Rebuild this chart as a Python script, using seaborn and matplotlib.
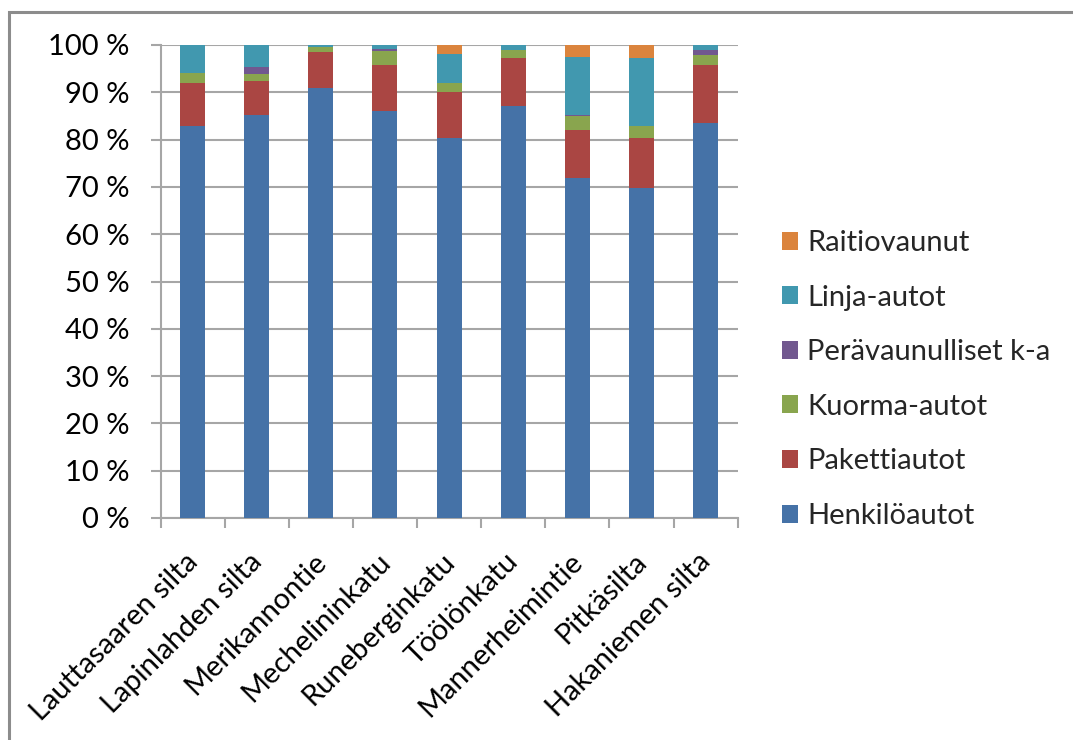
import numpy as np
import pandas as pd
import matplotlib
matplotlib.use("Agg")
import matplotlib.pyplot as plt
import matplotlib.transforms as mtransforms
from matplotlib.patches import Rectangle
import seaborn as sns

categories = ["Lauttasaaren silta", "Lapinlahden silta", "Merikannontie",
              "Mechelininkatu", "Runeberginkatu", "Töölönkatu",
              "Mannerheimintie", "Pitkäsilta", "Hakaniemen silta"]
henkiloautot = [82.8, 85.3, 91.0, 86.0, 80.4, 87.2, 71.9, 69.8, 83.6]
pakettiautot = [9.2, 7.0, 7.5, 9.8, 9.7, 10.0, 10.1, 10.6, 12.2]
kuorma_autot = [2.1, 1.6, 1.1, 3.0, 1.9, 1.8, 3.0, 2.5, 2.1]
peravaunulliset = [0.0, 1.4, 0.0, 0.4, 0.0, 0.0, 0.3, 0.0, 1.1]
linja_autot = [5.9, 4.7, 0.4, 0.8, 6.0, 1.0, 12.2, 14.3, 1.0]
raitiovaunut = [0.0, 0.0, 0.0, 0.0, 2.0, 0.0, 2.5, 2.8, 0.0]
series_names = ["Henkilöautot", "Pakettiautot", "Kuorma-autot",
                "Perävaunulliset k-a", "Linja-autot", "Raitiovaunut"]
colors = ["#4572A7", "#AA4643", "#89A54E", "#71588F", "#4198AF", "#DB843D"]
yticks = [0, 10, 20, 30, 40, 50, 60, 70, 80, 90, 100]
ytick_labels = [f"{v} %" for v in yticks]

sns.set_theme(style="white")
plt.rcParams['font.family'] = ['Lato', 'DejaVu Sans']
FS = 21

series = [henkiloautot, pakettiautot, kuorma_autot, peravaunulliset,
          linja_autot, raitiovaunut]
cum = np.cumsum(np.array(series), axis=0)

fig = plt.figure(figsize=(10.73, 7.40), dpi=100)
ax = fig.add_axes([160.5 / 1073, 1 - 518 / 740, (737.7 - 160.5) / 1073, (518 - 45) / 740])

for i in range(len(series) - 1, -1, -1):
    df = pd.DataFrame({"cat": categories, "val": cum[i]})
    sns.barplot(data=df, x="cat", y="val", color=colors[i], width=0.39,
                saturation=1, ax=ax, label=series_names[i], zorder=3,
                edgecolor="none", linewidth=0)

ax.set_ylim(0, 100)
ax.set_xlim(-0.5, len(categories) - 0.5)
ax.set_yticks(yticks)
ax.set_yticklabels(ytick_labels, fontsize=FS, color="black")
ax.set_xlabel("")
ax.set_ylabel("")
ax.yaxis.grid(True, color="#A6A6A6", linewidth=1.5, zorder=0)
ax.set_axisbelow(True)
for s in ["top", "right"]:
    ax.spines[s].set_visible(False)
for s in ["left", "bottom"]:
    ax.spines[s].set_color("#A6A6A6")
    ax.spines[s].set_linewidth(1.5)
ax.tick_params(axis="y", which="major", length=7.2, width=1.5, color="#A6A6A6",
               direction="out", pad=15, left=True)
ax.set_xticks(np.arange(-0.5, len(categories), 1.0), minor=True)
ax.tick_params(axis="x", which="minor", length=7.2, width=1.5, color="#A6A6A6",
               direction="out", bottom=True)
ax.tick_params(axis="x", which="major", length=0, pad=22)
ax.set_xticks(range(len(categories)))
ax.set_xticklabels(categories, rotation=45, ha="right", va="top",
                   rotation_mode="anchor", fontsize=FS, color="black")
offset = mtransforms.ScaledTranslation(-8 / 100, 0, fig.dpi_scale_trans)
for lab in ax.get_xticklabels():
    lab.set_transform(lab.get_transform() + offset)

handles, labels = ax.get_legend_handles_labels()
leg = ax.legend(handles, labels, loc="center left", bbox_to_anchor=(1.056, 0.293),
                borderaxespad=0, frameon=False, fontsize=FS,
                handlelength=0.57, handleheight=0.57,
                handletextpad=0.3, labelspacing=0.98)

fig.patches.append(Rectangle((9 / 1073, -0.1), 1.2, (740 - 12) / 740 + 0.1,
                             transform=fig.transFigure, fill=False,
                             edgecolor="#8C8C8C", linewidth=2.2))

fig.savefig("out.png", dpi=100, facecolor="white")
